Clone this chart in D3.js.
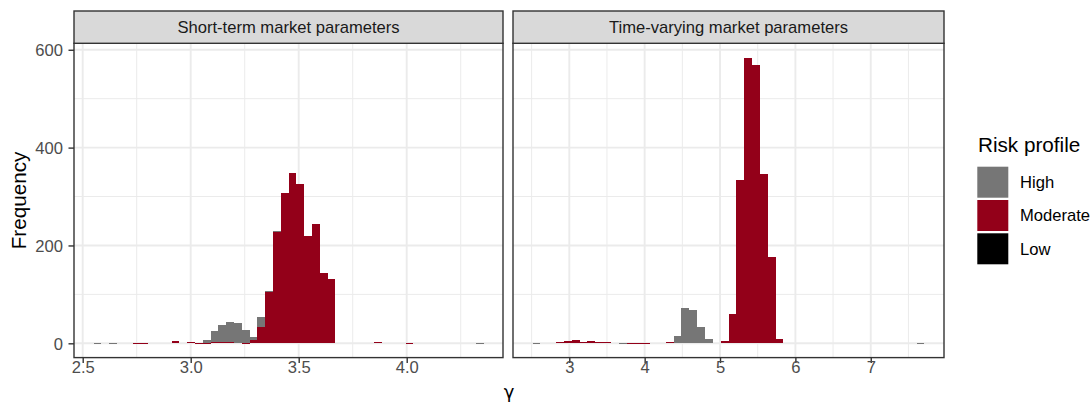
<!DOCTYPE html>
<html>
<head>
<meta charset="utf-8">
<script src="https://cdn.jsdelivr.net/npm/d3@7"></script>
<style>
  html, body { margin: 0; padding: 0; background: #ffffff; }
  svg { display: block; font-family: "Liberation Sans", Arial, Helvetica, sans-serif; }
</style>
</head>
<body>
<svg id="chart" width="1091" height="405"></svg>
<script>
// ---- Data -------------------------------------------------------------
const riskLevels = ["High", "Moderate", "Low"];
const riskColors = ["#767676", "#930019", "#000000"];
const panelTitles = ["Short-term market parameters", "Time-varying market parameters"];

// Histogram bins (50 equal-width bins per panel)
const shortBinStart = 2.550;
const shortBinWidth = 0.03611;
const varyingBinStart = 2.513;
const varyingBinWidth = 0.10398;

// Counts per bin, short-term market parameters
const shortHigh = [1,0,1,0,0,0,0,0,0,0, 0,0,0,0,5,23,35,41,42,27, 7,20,3,2,0,0,0,0,0,0, 0,0,0,0,0,0,0,0,0,0, 0,0,0,0,0,0,0,0,0,1];
const shortModerate = [0,0,0,0,0,1,1,0,0,0, 4,0,2,1,1,2,2,2,0,1, 6,33,104,228,307,348,325,220,243,143, 131,0,0,0,0,0,2,0,0,0, 1,0,0,0,0,0,0,0,0,0];
const shortLow = [0,0,0,0,0,0,0,0,0,0, 0,0,0,0,0,0,0,0,0,0, 0,0,0,0,0,0,0,0,0,0, 0,0,0,0,0,0,0,0,0,0, 0,0,0,0,0,0,0,0,0,0];

// Counts per bin, time-varying market parameters
const varyingHigh = [1,0,0,0,0,0,0,0,0,0, 0,1,0,0,0,0,0,0,15,73, 68,34,8,0,0,0,0,0,0,0, 0,0,0,0,0,0,0,0,0,0, 0,0,0,0,0,0,0,0,0,1];
const varyingModerate = [0,0,0,2,4,6,2,4,2,2, 0,0,1,1,1,0,0,2,0,0, 0,0,0,0,4,60,333,584,568,347, 177,8,0,0,0,0,0,0,0,0, 0,0,0,0,0,0,0,0,0,0];
const varyingLow = [0,0,0,0,0,0,0,0,0,0, 0,0,0,0,0,0,0,0,0,0, 0,0,0,0,0,0,0,0,0,0, 0,0,0,0,0,0,0,0,0,0, 0,0,0,0,0,0,0,0,0,0];

// Axis ticks
const yTicks = [0, 200, 400, 600];
const yMinorTicks = [100, 300, 500];
const shortXTicks = [2.5, 3.0, 3.5, 4.0];
const shortXMinor = [2.75, 3.25, 3.75, 4.25];
const varyingXTicks = [3, 4, 5, 6, 7];
const varyingXMinor = [2.5, 3.5, 4.5, 5.5, 6.5, 7.5];

// ---- Layout -----------------------------------------------------------
const stripTop = 11, panelTop = 43.3, panelBottom = 357.6;
const panelX = [[74, 503], [513, 944]];
const tickFont = 16.6, titleFont = 20.7;
const gridColor = "#EBEBEB", frameColor = "#333333", tickTextColor = "#4D4D4D";

const svg = d3.select("#chart");

function buildRows(start, width, high, moderate, low) {
  return high.map((_, i) => ({
    x0: start + i * width,
    x1: start + (i + 1) * width,
    High: high[i], Moderate: moderate[i], Low: low[i]
  }));
}

const panels = [
  { title: panelTitles[0], rows: buildRows(shortBinStart, shortBinWidth, shortHigh, shortModerate, shortLow),
    ticks: shortXTicks, minor: shortXMinor, fmt: d3.format(".1f") },
  { title: panelTitles[1], rows: buildRows(varyingBinStart, varyingBinWidth, varyingHigh, varyingModerate, varyingLow),
    ticks: varyingXTicks, minor: varyingXMinor, fmt: d3.format("d") }
];

// Stack bottom-to-top: Low, Moderate, High
const stackKeys = ["Low", "Moderate", "High"];
const stacker = d3.stack().keys(stackKeys);
panels.forEach(p => { p.stacked = stacker(p.rows); });

const yMax = d3.max(panels, p => d3.max(p.rows, r => r.High + r.Moderate + r.Low));
const yPad = yMax * 0.05;
const y = d3.scaleLinear().domain([-yPad, yMax + yPad]).range([panelBottom, panelTop]);

const colorOf = d3.scaleOrdinal().domain(riskLevels).range(riskColors);

panels.forEach((p, pi) => {
  const [xl, xr] = panelX[pi];
  const lo = d3.min(p.rows, r => r.x0), hi = d3.max(p.rows, r => r.x1);
  const pad = (hi - lo) * 0.05;
  const x = d3.scaleLinear().domain([lo - pad, hi + pad]).range([xl, xr]);
  const g = svg.append("g");

  // grid
  g.selectAll(".ymin").data(yMinorTicks).join("line")
    .attr("x1", xl).attr("x2", xr).attr("y1", d => y(d)).attr("y2", d => y(d))
    .attr("stroke", gridColor).attr("stroke-width", 1);
  g.selectAll(".xmin").data(p.minor).join("line")
    .attr("x1", d => x(d)).attr("x2", d => x(d)).attr("y1", panelTop).attr("y2", panelBottom)
    .attr("stroke", gridColor).attr("stroke-width", 1);
  g.selectAll(".ymaj").data(yTicks).join("line")
    .attr("x1", xl).attr("x2", xr).attr("y1", d => y(d)).attr("y2", d => y(d))
    .attr("stroke", gridColor).attr("stroke-width", 1.9);
  g.selectAll(".xmaj").data(p.ticks).join("line")
    .attr("x1", d => x(d)).attr("x2", d => x(d)).attr("y1", panelTop).attr("y2", panelBottom)
    .attr("stroke", gridColor).attr("stroke-width", 1.9);

  // stacked histogram bars
  p.stacked.forEach(layer => {
    g.append("g").attr("fill", colorOf(layer.key)).attr("shape-rendering", "crispEdges")
      .selectAll("rect").data(layer.filter(d => d[1] - d[0] > 0)).join("rect")
      .attr("x", d => x(d.data.x0))
      .attr("width", d => x(d.data.x1) - x(d.data.x0))
      .attr("y", d => y(d[1]))
      .attr("height", d => Math.max(1, y(d[0]) - y(d[1])));
  });

  // panel frame
  g.append("rect").attr("x", xl).attr("y", panelTop).attr("width", xr - xl).attr("height", panelBottom - panelTop)
    .attr("fill", "none").attr("stroke", frameColor).attr("stroke-width", 1.4);

  // strip
  g.append("rect").attr("x", xl).attr("y", stripTop).attr("width", xr - xl).attr("height", panelTop - stripTop)
    .attr("fill", "#D9D9D9").attr("stroke", frameColor).attr("stroke-width", 1.4);
  g.append("text").attr("x", (xl + xr) / 2).attr("y", (stripTop + panelTop) / 2 + 5.9)
    .attr("text-anchor", "middle").attr("font-size", tickFont).attr("fill", "#1A1A1A").text(p.title);

  // x axis
  const xAxis = g.append("g").attr("transform", `translate(0,${panelBottom})`)
    .call(d3.axisBottom(x).tickValues(p.ticks).tickFormat(p.fmt).tickSize(5.5));
  xAxis.select(".domain").remove();
  xAxis.selectAll(".tick line").attr("stroke", frameColor).attr("stroke-width", 1.4);
  xAxis.selectAll(".tick text").attr("y", 15.1).attr("dy", null)
    .attr("font-size", tickFont).attr("font-family", null).attr("fill", tickTextColor);

  // y axis only on the first panel
  if (pi === 0) {
    const yAxis = g.append("g").attr("transform", `translate(${xl},0)`)
      .call(d3.axisLeft(y).tickValues(yTicks).tickSize(5.5).tickPadding(5.5));
    yAxis.select(".domain").remove();
    yAxis.selectAll(".tick line").attr("stroke", frameColor).attr("stroke-width", 1.4);
    yAxis.selectAll(".tick text").attr("dy", "0.355em")
      .attr("font-size", tickFont).attr("font-family", null).attr("fill", tickTextColor);
  }
});

// axis titles
svg.append("text").attr("transform", `translate(25.5,${(panelTop + panelBottom) / 2}) rotate(-90)`)
  .attr("text-anchor", "middle").attr("font-size", titleFont).attr("fill", "#000").text("Frequency");
svg.append("text").attr("x", (panelX[0][0] + panelX[1][1]) / 2).attr("y", 398)
  .attr("text-anchor", "middle").attr("font-size", 18).attr("font-family", "DejaVu Sans, sans-serif")
  .attr("fill", "#000").text("γ");

// legend
const legend = svg.append("g").attr("transform", "translate(977.3,0)");
legend.append("text").attr("x", 0.7).attr("y", 152).attr("font-size", titleFont).attr("fill", "#000").text("Risk profile");
const keys = legend.selectAll(".key").data(riskLevels).join("g")
  .attr("transform", (d, i) => `translate(0,${166.7 + i * 33.3})`);
keys.append("rect").attr("width", 31).attr("height", 31).attr("fill", d => colorOf(d));
keys.append("text").attr("x", 42.7).attr("y", 15.5 + 5.9).attr("font-size", tickFont).attr("fill", "#000").text(d => d);
</script>
</body>
</html>
